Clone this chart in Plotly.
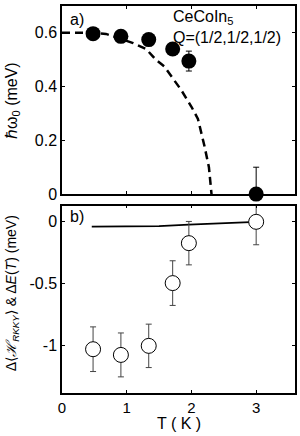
import plotly.graph_objects as go

# ---- data ----
T = [0.48, 0.91, 1.34, 1.71, 1.96, 3.0]
omega0 = [0.597, 0.587, 0.575, 0.54, 0.495, 0.0]
omega0_err = [0.015, 0.015, 0.015, 0.02, 0.037, 0.1]

fit_T = [0.0, 0.5, 0.68, 1.1, 1.3, 1.45, 1.58, 1.72, 1.84, 2.0, 2.1, 2.2, 2.27, 2.31]
fit_omega = [0.6, 0.6, 0.596, 0.562, 0.54, 0.50, 0.475, 0.43, 0.388, 0.325, 0.28, 0.18, 0.10, 0.0]

dH = [-1.027, -1.073, -1.0, -0.494, -0.172, 0.0]
dH_err = [0.18, 0.177, 0.175, 0.18, 0.175, 0.185]

dE_T = [0.46, 1.0, 1.5, 1.96, 2.5, 3.0]
dE = [-0.038, -0.037, -0.034, -0.022, -0.01, 0.0]

x_ticks = [0, 1, 2, 3]
x_ticktext = ["0", "1", "2", "3"]
ya_ticks = [0, 0.2, 0.4, 0.6]
ya_ticktext = ["0", "0.2", "0.4", "0.6"]
yb_ticks = [-1, -0.5, 0]
yb_ticktext = ["-1", "-0.5", "0"]

FONT = "Liberation Sans, Arial, sans-serif"
FS = 16

fig = go.Figure()

fig.add_trace(go.Scatter(
    x=fit_T, y=fit_omega, mode="lines",
    line=dict(color="black", width=2.5, dash="8px,5px"),
    xaxis="x", yaxis="y", showlegend=False))
fig.add_trace(go.Scatter(
    x=T, y=omega0, mode="markers",
    marker=dict(color="black", size=15),
    error_y=dict(type="data", array=omega0_err, color="black", thickness=1, width=3),
    xaxis="x", yaxis="y", showlegend=False, cliponaxis=False))

fig.add_trace(go.Scatter(
    x=dE_T, y=dE, mode="lines",
    line=dict(color="black", width=1.8),
    xaxis="x2", yaxis="y2", showlegend=False))
fig.add_trace(go.Scatter(
    x=T, y=dH, mode="markers",
    marker=dict(color="white", size=15, line=dict(color="black", width=1)),
    error_y=dict(type="data", array=dH_err, color="#444444", thickness=1, width=3),
    xaxis="x2", yaxis="y2", showlegend=False, cliponaxis=False))

axis_common = dict(
    showline=True, linecolor="black", linewidth=1.5, mirror="allticks",
    ticks="inside", ticklen=3, tickcolor="black", tickwidth=1,
    showgrid=False, zeroline=False, automargin=False,
    tickfont=dict(family=FONT, size=FS, color="black"),
)

fig.update_layout(
    width=300, height=436,
    margin=dict(l=62, r=5, t=6, b=43),
    paper_bgcolor="white", plot_bgcolor="white",
    font=dict(family=FONT, size=FS, color="black"),
    xaxis=dict(axis_common, range=[0, 3.6], tickvals=x_ticks, showticklabels=False,
               anchor="y"),
    yaxis=dict(axis_common, range=[0, 0.7], domain=[0.514, 1.0],
               tickvals=ya_ticks, ticktext=ya_ticktext, anchor="x"),
    xaxis2=dict(axis_common, range=[0, 3.6], tickvals=x_ticks, ticktext=x_ticktext,
                anchor="y2", tickfont=dict(family=FONT, size=15, color="black")),
    yaxis2=dict(axis_common, range=[-1.38, 0.13], domain=[0.0, 0.484],
                tickvals=yb_ticks, ticktext=yb_ticktext, anchor="x2"),
    annotations=[
        dict(text="ℏω<sub>0</sub> (meV)", x=-0.2146, y=0.757, xref="paper", yref="paper",
             xanchor="center", yanchor="middle", textangle=-90, showarrow=False,
             font=dict(family=FONT, size=FS)),
        dict(text="Δ⟨<i>ℋ</i><sub><i>RKKY</i></sub>⟩ &amp; Δ<i>E</i>(<i>T</i>) (meV)",
             x=-0.2146, y=0.258, xref="paper", yref="paper",
             xanchor="center", yanchor="middle", textangle=-90, showarrow=False,
             font=dict(family=FONT, size=14)),
        dict(text="T ( K )", x=0.5, y=-0.079, xref="paper", yref="paper",
             xanchor="center", yanchor="middle", showarrow=False,
             font=dict(family=FONT, size=16)),
        dict(text="a)", x=0.1, y=0.69, xref="x", yref="y", xanchor="left", yanchor="top",
             showarrow=False, font=dict(family=FONT, size=FS)),
        dict(text="b)", x=0.1, y=0.13, xref="x2", yref="y2", xanchor="left", yanchor="top",
             showarrow=False, font=dict(family=FONT, size=FS)),
        dict(text="CeCoIn<sub>5</sub><br>Q=(1/2,1/2,1/2)", x=1.68, y=0.70,
             xref="x", yref="y", xanchor="left", yanchor="top", align="left",
             showarrow=False, font=dict(family=FONT, size=FS)),
    ],
)

fig.write_html("out.html", config={"displayModeBar": False},
               post_script="document.body.style.margin='0';")
